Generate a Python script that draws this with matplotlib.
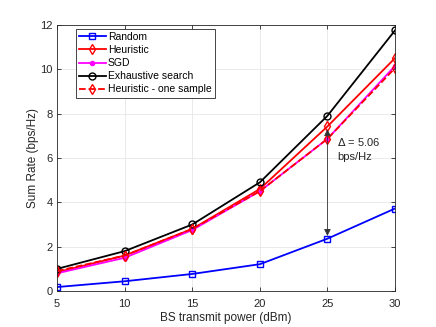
import numpy as np
import matplotlib
matplotlib.use("Agg")
import matplotlib.pyplot as plt

plt.rcParams['font.family'] = ['Liberation Sans', 'DejaVu Sans']

power = [5, 10, 15, 20, 25, 30]
random_rate = [0.18, 0.44, 0.77, 1.21, 2.36, 3.72]
heuristic = [0.85, 1.6, 2.8, 4.6, 7.42, 10.5]
sgd = [0.8, 1.5, 2.75, 4.5, 6.86, 10.15]
exhaustive = [1.0, 1.8, 3.0, 4.9, 7.9, 11.75]
heuristic_one = [0.9, 1.6, 2.8, 4.5, 6.86, 10.05]

fig = plt.figure(figsize=(4.36, 3.27), dpi=100)
ax = fig.add_axes([0.131, 0.110, 0.775, 0.814])

ax.plot(power, random_rate, color='#0000ff', marker='s', markersize=4, mfc='none', lw=1.3, label='Random')
ax.plot(power, heuristic, color='#ff0000', marker='d', markersize=5, mfc='none', lw=1.3, label='Heuristic')
ax.plot(power, sgd, color='#ff00ff', marker='.', markersize=6, lw=1.3, label='SGD')
ax.plot(power, exhaustive, color='black', marker='o', markersize=5, mfc='none', lw=1.3, label='Exhaustive search')
ax.plot(power, heuristic_one, color='#ff0000', marker='d', markersize=5, mfc='none', lw=1.3, ls='--', label='Heuristic - one sample')

ax.annotate('', xy=(25, random_rate[4]), xytext=(25, heuristic[4]),
            arrowprops=dict(arrowstyle='<|-|>', color='#333333', lw=0.6, mutation_scale=10))
ax.text(25.7, 7.0, '$\\Delta$ = 5.06\nbps/Hz', fontsize=8, va='top', ha='left', linespacing=1.5, color='#262626')

ax.set_xlim(5, 30)
ax.set_ylim(0, 12)
ax.set_xticks([5, 10, 15, 20, 25, 30])
ax.set_yticks([0, 2, 4, 6, 8, 10, 12])
ax.grid(True, color='#e6e6e6', lw=0.6)
ax.set_axisbelow(True)
for s in ax.spines.values():
    s.set_color('#262626')
    s.set_linewidth(0.6)
ax.tick_params(labelsize=8, direction='in', length=3, width=0.6, colors='#262626', top=True, right=True)
ax.tick_params(axis='x', pad=6)
ax.tick_params(axis='y', pad=3)
ax.set_xlabel('BS transmit power (dBm)', fontsize=8.5, color='#262626', labelpad=2)
ax.set_ylabel('Sum Rate (bps/Hz)', fontsize=8.5, color='#262626', labelpad=1)

leg = ax.legend(loc='upper left', bbox_to_anchor=(0.055, 0.985), fontsize=7.5, fancybox=False, framealpha=1,
                edgecolor='#262626', handlelength=2.6, borderpad=0.3, labelspacing=0.3, borderaxespad=0,
                handletextpad=0.2)
leg.get_frame().set_linewidth(0.6)

fig.savefig('out.png', dpi=100)
